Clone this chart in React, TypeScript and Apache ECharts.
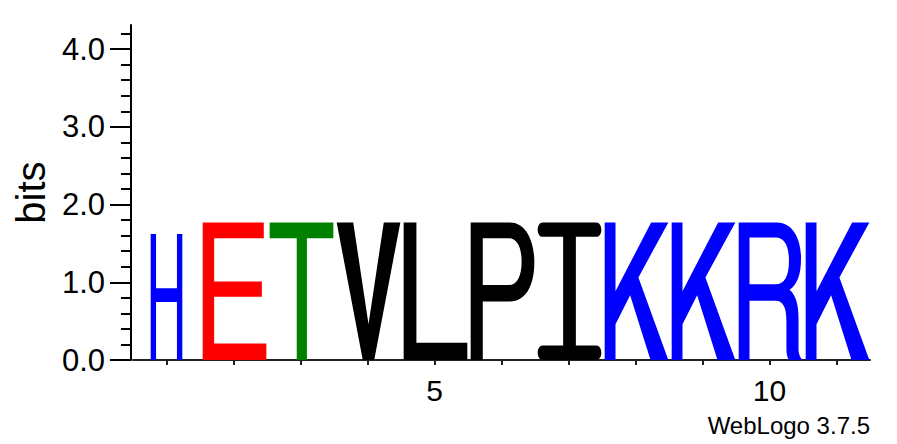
import React, { useEffect, useRef } from 'react';
import * as echarts from 'echarts';

// sequence logo columns
const positions = [1, 2, 3, 4, 5, 6, 7, 8, 9, 10, 11];
const residues = ['H', 'E', 'T', 'V', 'L', 'P', 'I', 'K', 'K', 'R', 'K'];
const bits = [1.62, 1.77, 1.77, 1.77, 1.77, 1.77, 1.77, 1.77, 1.77, 1.77, 1.77];

const xTicks = [1, 2, 3, 4, 5, 6, 7, 8, 9, 10, 11];
const xLabels = [5, 10];
const yMajor = [0, 1, 2, 3, 4];
const yMinor = [0.2, 0.4, 0.6, 0.8, 1.2, 1.4, 1.6, 1.8, 2.2, 2.4, 2.6, 2.8, 3.2, 3.4, 3.6, 3.8, 4.2];

// chemistry colour scheme
const residueColors: Record<string, string> = {
  H: '#0000ff',
  K: '#0000ff',
  R: '#0000ff',
  E: '#ff0000',
  T: '#008000',
  V: '#000000',
  L: '#000000',
  P: '#000000',
  I: '#000000',
};

// glyph outlines in a 100x100 box, stretched over each column
const glyphs: Record<string, { d: string; x0: number; x1: number }> = {
  H: {
    d: 'M0 0 H17 V43 H83 V0 H100 V100 H83 V54 H17 V100 H0 Z',
    x0: -0.236,
    x1: 0.236,
  },
  E: {
    d: 'M0 0 H96 V11.5 H18 V43 H93 V54 H18 V88 H100 V100 H0 Z',
    x0: -0.46,
    x1: 0.49,
  },
  T: {
    d: 'M0 0 H100 V11.5 H58.5 V100 H42.5 V11.5 H0 Z',
    x0: -0.46,
    x1: 0.49,
  },
  V: {
    d: 'M0 0 H26 L50 74 L74 0 H100 L59 100 H41 Z',
    x0: -0.46,
    x1: 0.49,
  },
  L: {
    d: 'M0 0 H20 V87.5 H100 V100 H0 Z',
    x0: -0.46,
    x1: 0.49,
  },
  P: {
    d:
      'M0 0 H62 C85 0 100 12 100 29 C100 47 85 57.5 62 57.5 H19 V100 H0 Z ' +
      'M19 11.5 V45.5 H60 C73 45.5 80 39 80 28.5 C80 18 73 11.5 60 11.5 Z',
    x0: -0.46,
    x1: 0.49,
  },
  I: {
    d:
      'M8 0 H92 C97 0 100 2.5 100 5.25 C100 8 97 10.5 92 10.5 H60 V89.5 H92 ' +
      'C97 89.5 100 92 100 94.75 C100 97.5 97 100 92 100 H8 C3 100 0 97.5 0 94.75 ' +
      'C0 92 3 89.5 8 89.5 H40 V10.5 H8 C3 10.5 0 8 0 5.25 C0 2.5 3 0 8 0 Z',
    x0: -0.46,
    x1: 0.49,
  },
  K: {
    d: 'M0 0 H17 V50 L73 0 H100 L53 40 L100 100 H72 L40 53 L17 74 V100 H0 Z',
    x0: -0.46,
    x1: 0.49,
  },
  R: {
    d:
      'M0 0 H60 C85 0 98 12 98 26 C98 38 92 45 80 49 C90 53 94 60 94 70 V92 ' +
      'C94 96 97 98 100 100 H79 C76 98 75 95 75 92 V72 C75 62 70 57 58 57 H17 V100 H0 Z ' +
      'M17 11 V45 H58 C72 45 79 39 79 28 C79 17 72 11 58 11 Z',
    x0: -0.46,
    x1: 0.49,
  },
};

const FONT = '"Liberation Sans", Arial, Helvetica, sans-serif';

const SequenceLogo: React.FC = () => {
  const chartRef = useRef<HTMLDivElement>(null);

  useEffect(() => {
    if (!chartRef.current) return;
    const chart = echarts.init(chartRef.current, undefined, { renderer: 'svg' });

    const option: echarts.EChartsOption = {
      animation: false,
      backgroundColor: '#ffffff',
      grid: { left: 133, right: 27, top: 25, bottom: 84 },
      xAxis: {
        type: 'value',
        min: 0.5,
        max: 11.5,
        axisLine: { show: true, onZero: false, lineStyle: { color: '#222', width: 2 } },
        axisTick: { show: true, customValues: xTicks, length: 5, lineStyle: { color: '#222', width: 2 } },
        axisLabel: {
          customValues: xLabels,
          fontSize: 30,
          fontFamily: FONT,
          color: '#000',
          margin: 15,
        },
        splitLine: { show: false },
      },
      yAxis: [
        {
          type: 'value',
          min: 0,
          max: 4.31,
          position: 'left',
          offset: 2,
          name: 'bits',
          nameLocation: 'middle',
          nameGap: 69,
          nameTextStyle: { fontSize: 40, fontFamily: FONT, color: '#000' },
          axisLine: { show: true, lineStyle: { color: '#000', width: 2 } },
          axisTick: { show: true, customValues: yMajor, length: 21, lineStyle: { color: '#000', width: 2 } },
          axisLabel: {
            customValues: yMajor,
            formatter: (v: number) => v.toFixed(1),
            fontSize: 31,
            fontFamily: FONT,
            color: '#000',
            margin: 26,
          },
          splitLine: { show: false },
        },
        {
          type: 'value',
          min: 0,
          max: 4.31,
          position: 'left',
          offset: 2,
          axisLine: { show: false },
          axisTick: { show: true, customValues: yMinor, length: 10, lineStyle: { color: '#000', width: 2 } },
          axisLabel: { show: false },
          splitLine: { show: false },
        },
      ],
      graphic: [
        {
          type: 'text',
          right: 27,
          top: 413,
          style: { text: 'WebLogo 3.7.5', font: `24px ${FONT}`, fill: '#000' },
        },
      ],
      series: [
        {
          type: 'custom',
          xAxisIndex: 0,
          yAxisIndex: 0,
          encode: { x: 0, y: 1 },
          data: positions.map((p, i) => [p, bits[i]]),
          renderItem: (params: any, api: any) => {
            const res = residues[params.dataIndex];
            const g = glyphs[res];
            const pos = api.value(0);
            const h = api.value(1);
            const topLeft = api.coord([pos + g.x0, h]);
            const bottomRight = api.coord([pos + g.x1, 0]);
            return {
              type: 'path',
              shape: {
                pathData: g.d,
                x: topLeft[0],
                y: topLeft[1],
                width: bottomRight[0] - topLeft[0],
                height: bottomRight[1] - topLeft[1],
                layout: 'cover',
              },
              style: { fill: residueColors[res] },
            };
          },
        },
      ],
    };

    chart.setOption(option);

    return () => {
      chart.dispose();
    };
  }, []);

  return (
    <div
      ref={chartRef}
      style={{ position: 'absolute', left: 0, top: 0, width: '897px', height: '444px' }}
    />
  );
};

export default function App() {
  return <SequenceLogo />;
}
